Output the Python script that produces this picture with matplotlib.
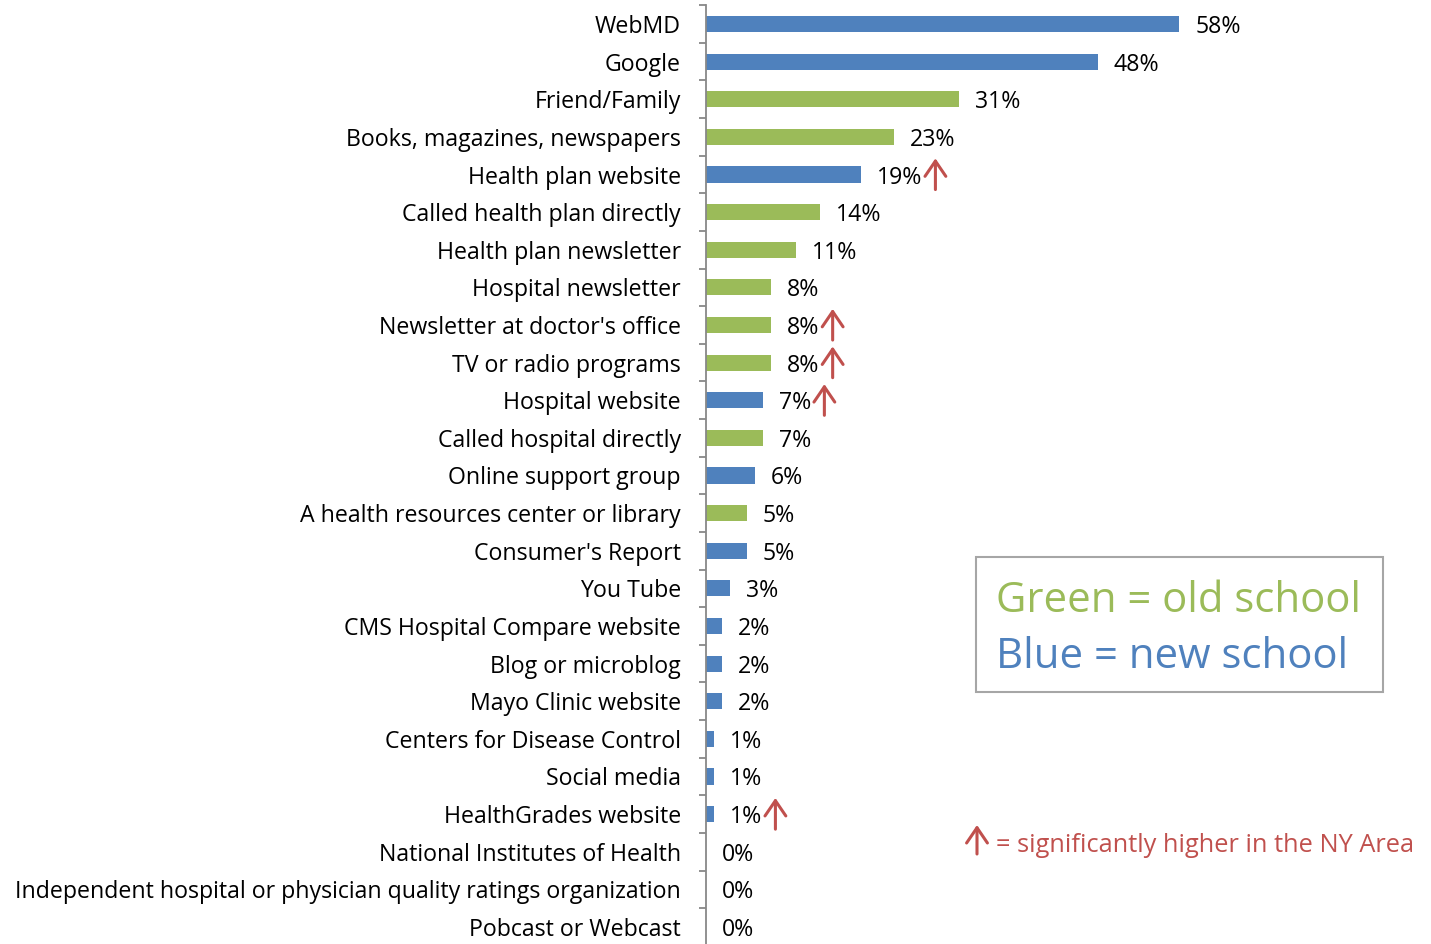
import matplotlib
matplotlib.use("Agg")
import matplotlib.pyplot as plt
from matplotlib.patches import Rectangle

# data
sources = ["WebMD", "Google", "Friend/Family", "Books, magazines, newspapers",
           "Health plan website", "Called health plan directly", "Health plan newsletter",
           "Hospital newsletter", "Newsletter at doctor's office", "TV or radio programs",
           "Hospital website", "Called hospital directly", "Online support group",
           "A health resources center or library", "Consumer's Report", "You Tube",
           "CMS Hospital Compare website", "Blog or microblog", "Mayo Clinic website",
           "Centers for Disease Control", "Social media", "HealthGrades website",
           "National Institutes of Health",
           "Independent hospital or physician quality ratings organization",
           "Pobcast or Webcast"]
pct = [58, 48, 31, 23, 19, 14, 11, 8, 8, 8, 7, 7, 6, 5, 5, 3, 2, 2, 2, 1, 1, 1, 0, 0, 0]
kind = ["new", "new", "old", "old", "new", "old", "old", "old", "old", "old", "new", "old",
        "new", "old", "new", "new", "new", "new", "new", "new", "new", "new", "new", "new", "new"]
higher_ny = ["Health plan website", "Newsletter at doctor's office", "TV or radio programs",
             "Hospital website", "HealthGrades website"]

BLUE = "#4F81BD"
GREEN = "#9BBB59"
RED = "#C0504D"
colors = {"new": BLUE, "old": GREEN}

plt.rcParams['font.family'] = ['Open Sans', 'DejaVu Sans']
FS = 16.7
ARROW = "->,head_length=1.1,head_width=0.75"

fig = plt.figure(figsize=(14.31, 9.44), dpi=100)
ax = fig.add_axes([706 / 1431, -1.8 / 944, 725 / 1431, 940.6 / 944])

ypos = list(range(len(sources)))
ax.barh(ypos, pct, height=0.43, color=[colors[k] for k in kind])
ax.set_xlim(0, 725 / 8.16)
ax.set_ylim(len(sources) - 0.5, -0.5)

for s in ["top", "right", "bottom"]:
    ax.spines[s].set_visible(False)
ax.spines["left"].set_color("#888888")
ax.spines["left"].set_linewidth(1.3)
ax.set_xticks([])
ax.set_yticks([i - 0.5 for i in range(len(sources) + 1)])
ax.set_yticklabels([])
ax.tick_params(axis="y", which="major", length=5, width=1.3, color="#888888")
ax.set_yticks(ypos, minor=True)
ax.set_yticklabels(sources, minor=True, fontsize=FS)
ax.tick_params(axis="y", which="minor", length=0, pad=18)

labels = []
for i, v in enumerate(pct):
    t = ax.annotate(f"{v}%", xy=(v, i), xytext=(16, 0), textcoords="offset pixels",
                    va="center_baseline", ha="left", fontsize=FS)
    labels.append(t)

fig.canvas.draw()
r = fig.canvas.get_renderer()
for i, s in enumerate(sources):
    if s in higher_ny:
        bb = labels[i].get_window_extent(r)
        xa = ax.transData.inverted().transform((bb.x1 + 13, 0))[0]
        ax.annotate("", xy=(xa, i - 0.43), xytext=(xa, i + 0.4),
                    arrowprops=dict(arrowstyle=ARROW, color=RED, lw=2.2,
                                    shrinkA=0, shrinkB=0))

# legend box
fig.patches.append(Rectangle((976 / 1431, 1 - 692 / 944), 407 / 1431, 135 / 944,
                             transform=fig.transFigure, fill=False,
                             edgecolor="#A6A6A6", linewidth=1.5))
fig.text(996 / 1431, 1 - 612 / 944, "Green = old school", color=GREEN,
         fontsize=30.2, va="baseline", ha="left")
fig.text(996 / 1431, 1 - 668 / 944, "Blue = new school", color=BLUE,
         fontsize=30.2, va="baseline", ha="left")

# significance note
ax.annotate("", xy=(977 / 1431, 1 - 825 / 944), xytext=(977 / 1431, 1 - 854 / 944),
            xycoords="figure fraction", textcoords="figure fraction",
            arrowprops=dict(arrowstyle=ARROW, color=RED, lw=2.2, shrinkA=0, shrinkB=0))
fig.text(996 / 1431, 1 - 852 / 944, "= significantly higher in the NY Area", color=RED,
         fontsize=18.3, va="baseline", ha="left")

fig.savefig("out.png", dpi=100)
